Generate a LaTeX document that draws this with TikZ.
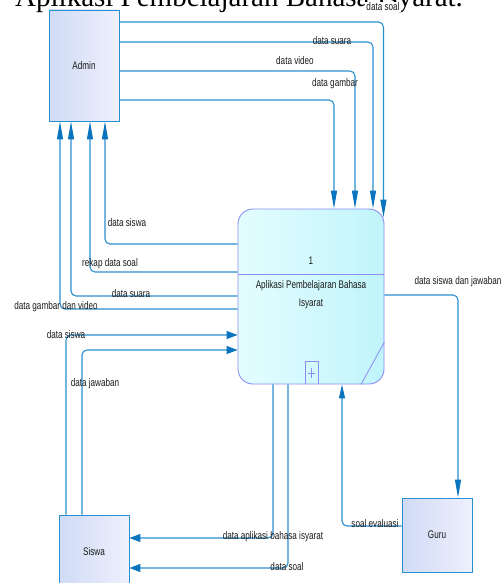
\documentclass[tikz,border=0pt]{standalone}
\usepackage{fontspec}
\newfontfamily\labfont[FakeStretch=0.74]{Liberation Sans}
\newfontfamily\titlefont{Liberation Serif}
\usetikzlibrary{arrows.meta,calc}
\definecolor{flowc}{HTML}{2A8FD0}
\definecolor{arrowc}{HTML}{0A74BF}
\definecolor{entb}{HTML}{2A8FD0}
\definecolor{entl}{HTML}{D0DBF6}
\definecolor{entr}{HTML}{EEF0FC}
\definecolor{procb}{HTML}{8C8CF5}
\definecolor{procl}{HTML}{E4FDFF}
\definecolor{procr}{HTML}{C0F5FB}
\definecolor{labc}{HTML}{1A1A1A}
\begin{document}
\begin{tikzpicture}[x=1pt,y=-1pt,
  entity/.style={draw=entb, line width=0.9pt, left color=entl, right color=entr,
    minimum width=70pt, minimum height=74pt, inner sep=0pt,
    font=\labfont\fontsize{11}{13}\selectfont, text=labc},
  lab/.style={font=\labfont\fontsize{11}{13}\selectfont, text=labc, inner sep=1pt},
  flow/.style={draw=flowc, line width=1.1pt, rounded corners=5pt},
  varrow/.style={-{Triangle[length=18pt,width=6pt,color=arrowc]}},
  harrow/.style={-{Triangle[length=11pt,width=8pt,color=arrowc]}}
]
\useasboundingbox (0,0) rectangle (502,583);
% title (cut off at top)
\node[anchor=base west, inner sep=0pt, font=\titlefont\fontsize{29}{30}\selectfont] (title) at (15,7) {Aplikasi Pembelajaran Bahasa Isyarat.};

% entities
\node[entity, minimum height=111pt] (admin) at (84,65.5) {Admin};
\node[entity] (siswa) at (94,552) {Siswa};
\node[entity] (guru) at (437,535) {Guru};

% process
\node[draw=procb, line width=0.9pt, rounded corners=15pt, left color=procl, right color=procr,
  minimum width=146pt, minimum height=175pt, inner sep=0pt] (proc) at (311,296.5) {};
\draw[procb, line width=0.9pt] (proc.west |- 0,274) -- (proc.east |- 0,274);
\draw[procb, line width=0.8pt] (305,0 |- proc.south) -- (305,361) -- (318,361) -- (318,0 |- proc.south);
\draw[procb, line width=0.6pt] (308,373) -- (315,373) (311.5,368) -- (311.5,378);
\draw[procb, line width=0.8pt] (proc.east |- 0,342) -- (361,0 |- proc.south);
\node[lab] (pnum) at (311,261) {1};
\node[lab, align=center, font=\labfont\fontsize{11}{18}\selectfont] (pname) at (311,295) {Aplikasi Pembelajaran Bahasa\\Isyarat};

% admin -> process
\draw[flow, varrow] (admin.east |- 0,22) -| ($(proc.north east)+(-1,9)$);
\draw[flow, varrow] (admin.east |- 0,42) -| (373,0 |- proc.north);
\draw[flow, varrow] (admin.east |- 0,71) -| (355,0 |- proc.north);
\draw[flow, varrow] (admin.east |- 0,100) -| (334,0 |- proc.north);

% process -> admin
\draw[flow, varrow] (proc.west |- 0,244) -| (105,0 |- admin.south);
\draw[flow, varrow] (proc.west |- 0,272) -| (90,0 |- admin.south);
\draw[flow, varrow] (proc.west |- 0,296) -| (71,0 |- admin.south);
\draw[flow, varrow] (proc.west |- 0,309) -| (60,0 |- admin.south);

% siswa -> process
\draw[flow, harrow] (66,0 |- siswa.north) |- (proc.west |- 0,335);
\draw[flow, harrow] (82,0 |- siswa.north) |- (proc.west |- 0,350);

% process -> siswa
\draw[flow, harrow] (273,0 |- proc.south) |- (siswa.east |- 0,538);
\draw[flow, harrow] (288,0 |- proc.south) |- (siswa.east |- 0,568);

% guru <-> process
\draw[flow, -{Triangle[length=14pt,width=6pt,color=arrowc]}] (guru.west |- 0,526) -| (342,0 |- proc.south);
\draw[flow, varrow] (proc.east |- 0,295) -| (458,0 |- guru.north);

% labels
\node[lab, fill=white] (l1) at (383,7) {data soal};
\node[lab] (l2) at (332,41) {data suara};
\node[lab] (l3) at (295,61) {data video};
\node[lab] (l4) at (335,84) {data gambar};
\node[lab] (l5) at (127,223) {data siswa};
\node[lab] (l6) at (110,264) {rekap data soal};
\node[lab] (l7) at (131,294) {data suara};
\node[lab] (l8) at (56,307) {data gambar dan video};
\node[lab] (l9) at (66,335) {data siswa};
\node[lab] (l10) at (95,384) {data jawaban};
\node[lab] (l11) at (273,537) {data aplikasi bahasa isyarat};
\node[lab] (l12) at (287,567) {data soal};
\node[lab] (l13) at (375,524) {soal evaluasi};
\node[lab] (l14) at (458,282) {data siswa dan jawaban};
\end{tikzpicture}
\end{document}
